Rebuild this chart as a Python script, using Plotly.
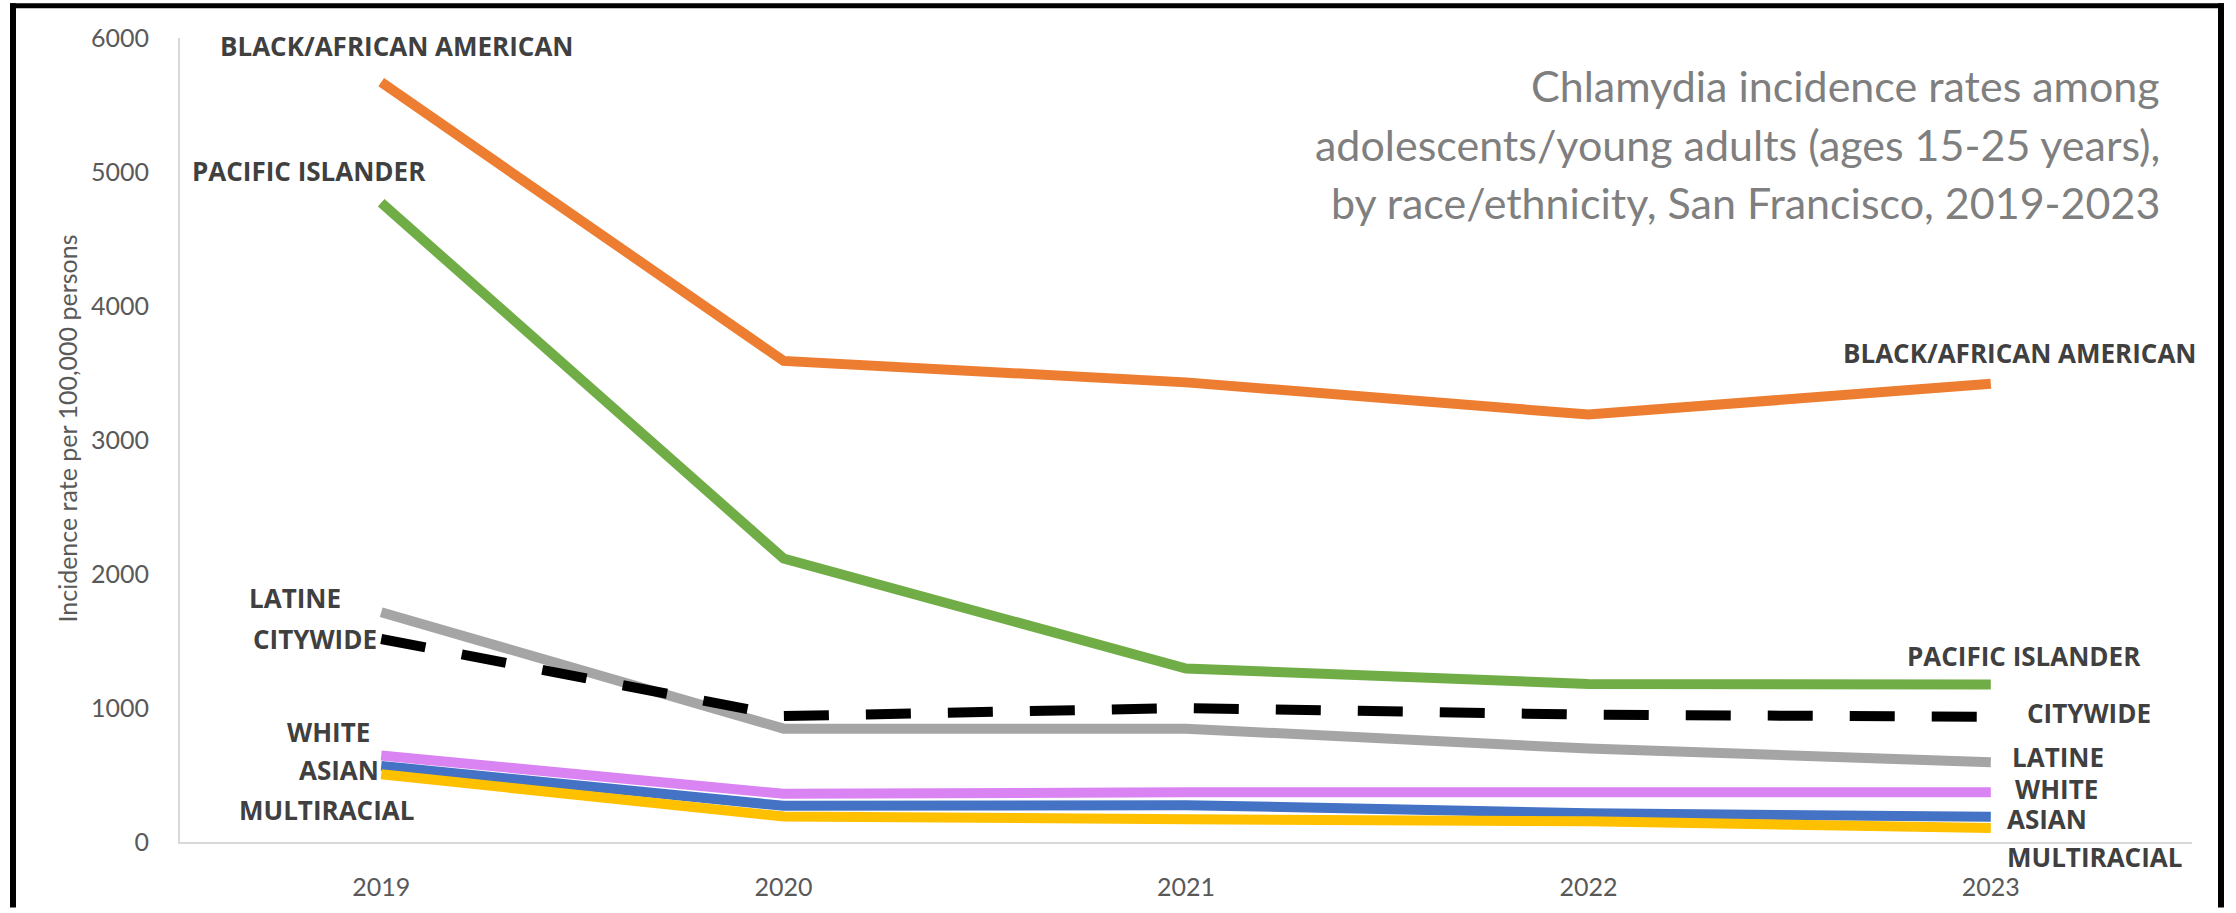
import plotly.graph_objects as go

years = ["2019", "2020", "2021", "2022", "2023"]
black = [5670, 3590, 3430, 3190, 3420]
pacific = [4770, 2115, 1295, 1180, 1175]
latine = [1715, 846, 846, 697, 595]
asian = [568, 270, 275, 215, 188]
white = [645, 360, 371, 365, 371]
multiracial = [505, 190, 170, 155, 105]
citywide = [1515, 940, 1000, 950, 935]

series_names = ["BLACK/AFRICAN AMERICAN", "PACIFIC ISLANDER", "LATINE", "ASIAN",
                "WHITE", "MULTIRACIAL", "CITYWIDE"]
series_values = [black, pacific, latine, asian, white, multiracial, citywide]
series_colors = ["#ED7D31", "#70AD47", "#A5A5A5", "#4472C4", "#DA83F2", "#FFC000", "#000000"]
series_dash = ["solid", "solid", "solid", "solid", "solid", "solid", "45px,37px"]

title_lines = ["Chlamydia incidence rates among",
               "adolescents/young adults (ages 15-25 years),",
               "by race/ethnicity, San Francisco, 2019-2023"]
y_title = "Incidence rate per 100,000 persons"

W, H = 2236, 913
L, R, T, B = 180, 44, 38, 66
PW, PH = W - L - R, H - T - B


def px(x):
    return (x - L) / PW


def py(y):
    return (H - B - y) / PH


fig = go.Figure()
for name, vals, col, dash in zip(series_names, series_values, series_colors, series_dash):
    fig.add_trace(go.Scatter(x=years, y=vals, mode="lines", name=name,
                             line=dict(color=col, width=10, dash=dash),
                             hoverinfo="skip"))

label_font = dict(family="Open Sans", size=26, color="#404040")

# left labels (center x, center y in pixels)
left_labels = [("BLACK/AFRICAN AMERICAN", 396, 46), ("PACIFIC ISLANDER", 309, 172),
               ("LATINE", 295, 601), ("CITYWIDE", 315, 643), ("WHITE", 328, 736),
               ("ASIAN", 339, 775), ("MULTIRACIAL", 326, 815)]
right_labels = [("BLACK/AFRICAN AMERICAN", 1842, 355), ("PACIFIC ISLANDER", 1906, 660),
                ("CITYWIDE", 2026, 717), ("LATINE", 2011, 761), ("WHITE", 2014, 794),
                ("ASIAN", 2006, 824), ("MULTIRACIAL", 2006, 862)]

for t, x, y in left_labels:
    fig.add_annotation(text="<b>%s</b>" % t, x=px(x), y=py(y), xref="paper", yref="paper",
                       xanchor="center", yanchor="middle", showarrow=False, borderpad=0,
                       font=label_font)
for t, x, y in right_labels:
    fig.add_annotation(text="<b>%s</b>" % t, x=px(x), y=py(y), xref="paper", yref="paper",
                       xanchor="left", yanchor="middle", showarrow=False, borderpad=0,
                       font=label_font)

for line, y in zip(title_lines, [86, 145, 204]):
    fig.add_annotation(text=line, x=px(2162), y=py(y), xref="paper", yref="paper",
                       xanchor="right", yanchor="middle", showarrow=False,
                       font=dict(family="Lato", size=43, color="#7F7F7F"))

fig.add_annotation(text=y_title, x=px(67), y=py(431), xref="paper", yref="paper",
                   xanchor="center", yanchor="middle", showarrow=False, textangle=-90,
                   font=dict(family="Lato", size=25, color="#595959"))

# black frame
frame = [(10, 16, 3, 913), (10, 2224, 3, 8), (2218, 2224, 3, 913)]
for x0, x1, y0, y1 in frame:
    fig.add_shape(type="rect", xref="paper", yref="paper", x0=px(x0), x1=px(x1),
                  y0=py(y1), y1=py(y0), fillcolor="#000000", line=dict(width=0), layer="above")

fig.update_layout(
    width=W, height=H, margin=dict(l=L, r=R, t=T, b=B, pad=0),
    paper_bgcolor="white", plot_bgcolor="white", showlegend=False,
    xaxis=dict(type="category", range=[-0.5, 4.5], showgrid=False, zeroline=False,
               showline=True, linecolor="#D9D9D9", linewidth=2, ticks="",
               tickfont=dict(family="Lato", size=25, color="#595959"),
               ticklabelstandoff=22),
    yaxis=dict(range=[0, 6000], tickvals=[0, 1000, 2000, 3000, 4000, 5000, 6000],
               showgrid=False, zeroline=False, showline=True, linecolor="#D9D9D9",
               linewidth=2, ticks="", tickfont=dict(family="Lato", size=25, color="#595959"),
               ticklabelstandoff=24),
)

fig.write_html("out.html", config={"displayModeBar": False})
